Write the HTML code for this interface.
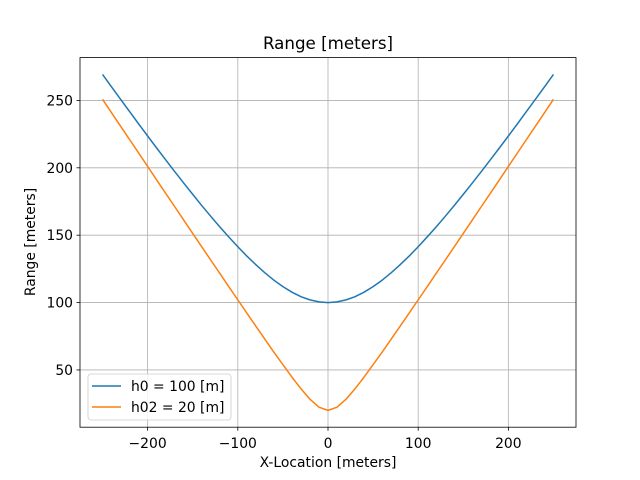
<!DOCTYPE html>
<html><head><meta charset="utf-8"><style>
body{margin:0;background:#fff;}
svg{display:block;font-family:"DejaVu Sans","Liberation Sans",sans-serif;}
</style></head><body>
<svg id="chart" width="640" height="480">
<rect width="640" height="480" fill="#fff"/>
<g id="grid"></g>
<g id="series"></g>
<rect x="80" y="57.6" width="496" height="369.6" fill="none" stroke="#000" stroke-width="0.8"/>
<g id="ticks"></g>
<text x="328" y="49" text-anchor="middle" font-size="16.7">Range [meters]</text>
<text x="328" y="467" text-anchor="middle" font-size="13.9">X-Location [meters]</text>
<text transform="translate(35,242) rotate(-90)" text-anchor="middle" font-size="13.9">Range [meters]</text>
<g>
<rect x="88" y="374" width="143" height="46" rx="3" fill="#fff" fill-opacity="0.8" stroke="#ccc" stroke-width="0.8"/>
<g><line x1="92" y1="386" x2="121" y2="386" stroke="#1f77b4" stroke-width="1.5"/><text x="131" y="391" font-size="13.9">h0 = 100 [m]</text></g>
<g><line x1="92" y1="407" x2="121" y2="407" stroke="#ff7f0e" stroke-width="1.5"/><text x="131" y="412" font-size="13.9">h02 = 20 [m]</text></g>
</g>
</svg>
<script>
const xValues=[-250,-240,-230,-220,-210,-200,-190,-180,-170,-160,-150,-140,-130,-120,-110,-100,-90,-80,-70,-60,-50,-40,-30,-20,-10,0,10,20,30,40,50,60,70,80,90,100,110,120,130,140,150,160,170,180,190,200,210,220,230,240,250];
const rangeH100=[269.3,260.0,250.8,241.7,232.6,223.6,214.7,205.9,197.2,188.7,180.3,172.0,164.0,156.2,148.7,141.4,134.5,128.1,122.1,116.6,111.8,107.7,104.4,102.0,100.5,100,100.5,102.0,104.4,107.7,111.8,116.6,122.1,128.1,134.5,141.4,148.7,156.2,164.0,172.0,180.3,188.7,197.2,205.9,214.7,223.6,232.6,241.7,250.8,260.0,269.3];
const rangeH20=[250.8,240.8,230.9,220.9,211.0,201.0,191.0,181.1,171.2,161.2,151.3,141.4,131.5,121.7,111.8,102.0,92.2,82.5,72.8,63.2,53.9,44.7,36.1,28.3,22.4,20,22.4,28.3,36.1,44.7,53.9,63.2,72.8,82.5,92.2,102.0,111.8,121.7,131.5,141.4,151.3,161.2,171.2,181.1,191.0,201.0,211.0,220.9,230.9,240.8,250.8];
const xTicks=[-200,-100,0,100,200];
const yTicks=[50,100,150,200,250];
const NS="http://www.w3.org/2000/svg";
const X0=80,X1=576,Y0=427.2,Y1=57.6,xmin=-275,xmax=275,ymin=7.53,ymax=281.77;
function sx(v){return X0+(v-xmin)/(xmax-xmin)*(X1-X0);}
function sy(v){return Y0-(v-ymin)/(ymax-ymin)*(Y0-Y1);}
function mk(t,a,p){const e=document.createElementNS(NS,t);for(const k in a)e.setAttribute(k,a[k]);p.appendChild(e);return e;}
const grid=document.getElementById('grid'),ticks=document.getElementById('ticks'),series=document.getElementById('series');
xTicks.forEach(v=>{const x=sx(v);
const g=mk('line',{x1:x,x2:x,y1:Y1,y2:Y0,stroke:'#b0b0b0','stroke-width':0.8},grid);


mk('line',{x1:x,x2:x,y1:Y0,y2:Y0+3.5,stroke:'#000','stroke-width':0.8},ticks);
const t=mk('text',{x:x,y:448,'text-anchor':'middle','font-size':13.9},ticks);t.textContent=String(v).replace('-','\u2212');

});
yTicks.forEach(v=>{const y=sy(v);
const g=mk('line',{x1:X0,x2:X1,y1:y,y2:y,stroke:'#b0b0b0','stroke-width':0.8},grid);


mk('line',{x1:X0-3.5,x2:X0,y1:y,y2:y,stroke:'#000','stroke-width':0.8},ticks);
const t=mk('text',{x:X0-7,y:y+5,'text-anchor':'end','font-size':13.9},ticks);t.textContent=v;

});
[[rangeH100,'#1f77b4','line-h0-100'],[rangeH20,'#ff7f0e','line-h02-20']].forEach(([d,c,n])=>{
const pts=xValues.map((x,i)=>sx(x).toFixed(2)+','+sy(d[i]).toFixed(2)).join(' ');
const p=mk('polyline',{points:pts,fill:'none',stroke:c,'stroke-width':1.5,'stroke-linejoin':'round'},series);

});
</script>
</body></html>
